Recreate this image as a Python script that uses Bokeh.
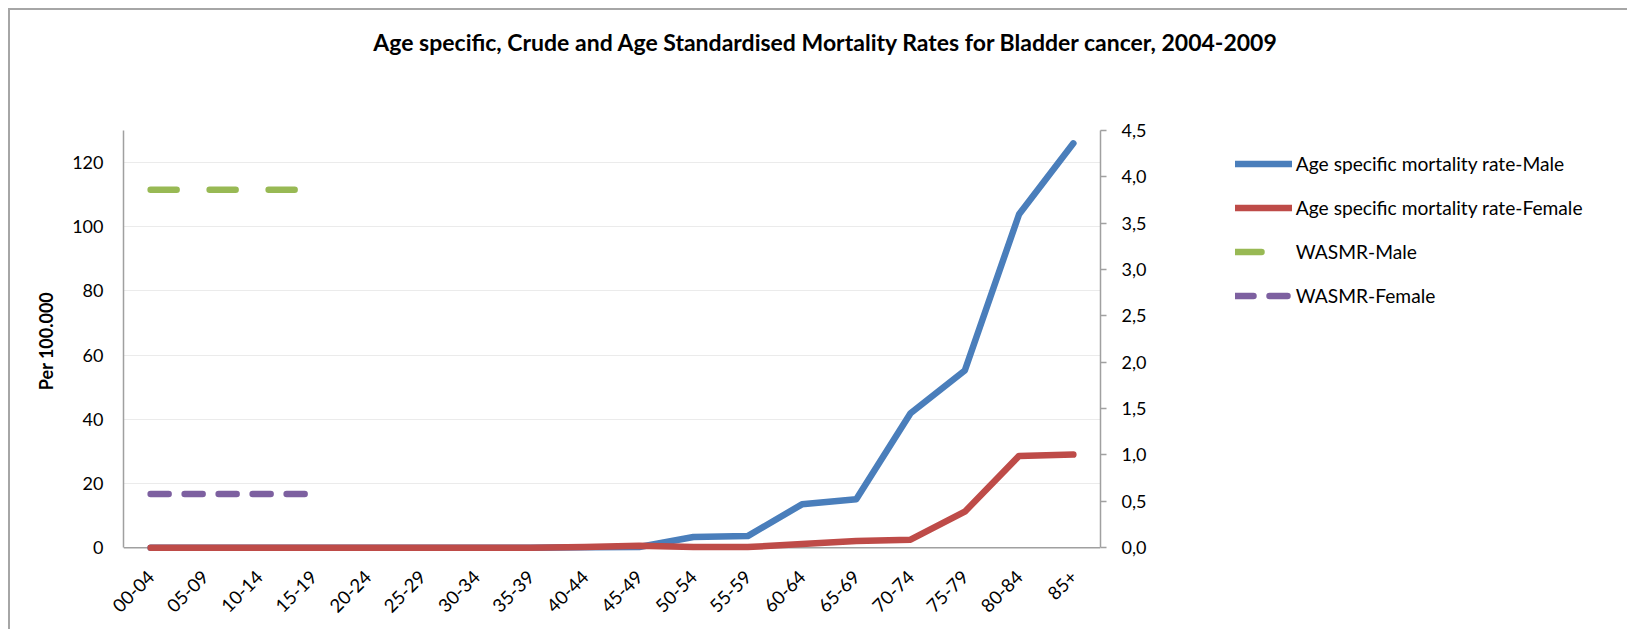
import math
from bokeh.plotting import figure
from bokeh.layouts import column, row
from bokeh.models import (FactorRange, Range1d, LinearAxis, FixedTicker, Legend,
                          LegendItem, Label, Span, ColumnDataSource)
from bokeh.embed import file_html
from bokeh.resources import INLINE

# ---------------- data ----------------
categories = ["00-04", "05-09", "10-14", "15-19", "20-24", "25-29", "30-34", "35-39",
              "40-44", "45-49", "50-54", "55-59", "60-64", "65-69", "70-74", "75-79",
              "80-84", "85+"]
male_rate = [0, 0, 0, 0, 0, 0, 0, 0, 0.1, 0.2, 3.3, 3.6, 13.5, 15.1, 41.9, 55.2, 103.9, 126.0]
female_rate = [0, 0, 0, 0, 0, 0, 0, 0, 0.2, 0.6, 0.2, 0.2, 1.1, 2.1, 2.5, 11.2, 28.6, 29.0]
wasmr_categories = ["00-04", "05-09", "10-14", "15-19"]
wasmr_male = [3.86, 3.86, 3.86, 3.86]
wasmr_female = [0.58, 0.58, 0.58, 0.58]
left_ticks = [0, 20, 40, 60, 80, 100, 120]
right_ticks = [0.0, 0.5, 1.0, 1.5, 2.0, 2.5, 3.0, 3.5, 4.0, 4.5]
right_tick_labels = ["0,0", "0,5", "1,0", "1,5", "2,0", "2,5", "3,0", "3,5", "4,0", "4,5"]
series_names = ["Age specific mortality rate-Male", "Age specific mortality rate-Female",
                "WASMR-Male", "WASMR-Female"]
series_colors = ["#4A7EBB", "#BE4B48", "#98B954", "#7D60A0"]
series_dash = ["solid", "solid", "26 33", "18 16"]
title_text = "Age specific, Crude and Age Standardised Mortality Rates for Bladder cancer, 2004-2009"
y_label = "Per 100.000"

FONT = "Lato"
AXIS_COLOR = "#a0a0a0"
LW = 6.5

src = ColumnDataSource(dict(cat=categories, male=male_rate, female=female_rate))
src_w = ColumnDataSource(dict(cat=wasmr_categories, m=wasmr_male, f=wasmr_female))
series_fields = [(src, "male"), (src, "female"), (src_w, "m"), (src_w, "f")]

# ---------------- title strip ----------------
tf = figure(width=1617, height=100, x_range=Range1d(0, 1), y_range=Range1d(0, 1),
            x_axis_location=None, y_axis_location=None, toolbar_location=None,
            output_backend="svg", min_border=0)
tf.outline_line_color = None
tf.xgrid.visible = False
tf.ygrid.visible = False
tf.add_layout(Label(x=815.7, y=69, x_units="screen", y_units="screen",
                    text=title_text, text_align="center", text_baseline="alphabetic",
                    text_font=FONT, text_font_style="bold", text_font_size="23px",
                    text_color="black"))

# ---------------- main chart ----------------
p = figure(width=1150, height=519,
           x_range=FactorRange(*categories), y_range=Range1d(-1.2, 130),
           output_backend="svg", toolbar_location=None,
           min_border_left=113, min_border_right=60,
           min_border_top=20, min_border_bottom=78)
p.outline_line_color = None
p.background_fill_color = "white"
p.border_fill_color = "white"
p.extra_y_ranges = {"right": Range1d(-1.2 * 4.5 / 130, 4.5)}

p.xgrid.visible = False
p.ygrid.grid_line_color = "#ebebeb"
p.ygrid.grid_line_width = 1.2

ya = p.yaxis[0]
ya.ticker = FixedTicker(ticks=left_ticks)
ya.bounds = (0, 130)
ya.axis_line_color = AXIS_COLOR
ya.axis_line_width = 1.5
ya.major_tick_out = 0
ya.major_tick_in = 0
ya.minor_tick_out = 0
ya.minor_tick_in = 0
ya.major_label_standoff = 20
ya.major_label_text_font = FONT
ya.major_label_text_font_size = "18px"
ya.major_label_text_color = "black"
ya.axis_label = y_label
ya.axis_label_text_font = FONT
ya.axis_label_text_font_style = "bold"
ya.axis_label_text_font_size = "18px"
ya.axis_label_text_color = "black"
ya.axis_label_standoff = 12

xa = p.xaxis[0]
xa.axis_line_color = None
xa.major_tick_line_color = None
xa.minor_tick_line_color = None
xa.major_label_orientation = math.pi / 4
xa.major_label_standoff = 16
xa.major_label_text_font = FONT
xa.major_label_text_font_size = "18.5px"
xa.major_label_text_color = "black"

ra = LinearAxis(y_range_name="right", ticker=FixedTicker(ticks=right_ticks),
                major_label_overrides=dict(zip(right_ticks, right_tick_labels)))
ra.bounds = (0, 4.5)
ra.axis_line_color = AXIS_COLOR
ra.axis_line_width = 1.5
ra.major_tick_line_color = AXIS_COLOR
ra.major_tick_line_width = 1.5
ra.major_tick_out = 6
ra.major_tick_in = 0
ra.minor_tick_out = 0
ra.minor_tick_in = 0
ra.major_label_standoff = 15
ra.major_label_text_font = FONT
ra.major_label_text_font_size = "18px"
ra.major_label_text_color = "black"
p.add_layout(ra, "right")

p.add_layout(Span(location=0, dimension="width", line_color=AXIS_COLOR,
                  line_width=1.5, level="underlay"))

for i, (s, fld) in enumerate(series_fields):
    kw = dict(y_range_name="right") if s is src_w else {}
    p.line("cat", fld, source=s, line_color=series_colors[i], line_width=LW,
           line_cap="round", line_join="round", line_dash=series_dash[i], **kw)

# ---------------- legend panel ----------------
# same series drawn through a range far above the data so only the legend shows them
lf = figure(width=467, height=519, x_range=FactorRange(*categories),
            y_range=Range1d(1000, 1001),
            x_axis_location=None, y_axis_location=None, toolbar_location=None,
            output_backend="svg", min_border=0)
lf.outline_line_color = None
lf.xgrid.visible = False
lf.ygrid.visible = False
items = []
for i, (s, fld) in enumerate(series_fields):
    rr = lf.line("cat", fld, source=s, line_color=series_colors[i], line_width=LW,
                 line_cap="round", line_join="round", line_dash=series_dash[i])
    items.append(LegendItem(label=series_names[i], renderers=[rr]))
legend = Legend(items=items, location=(74.8, 243.5), orientation="vertical",
                padding=0, margin=0, spacing=19,
                glyph_width=57, glyph_height=25, label_height=25, label_standoff=4,
                label_text_font=FONT, label_text_font_size="19.2px",
                label_text_color="black",
                border_line_color=None, background_fill_alpha=0)
lf.add_layout(legend)

layout = column(tf, row(p, lf))
layout.styles = {"margin-left": "8px", "margin-top": "8px",
                 "border-left": "2px solid #a6a6a6", "border-top": "2px solid #a6a6a6"}

open("out.html", "w").write(file_html(layout, INLINE))
